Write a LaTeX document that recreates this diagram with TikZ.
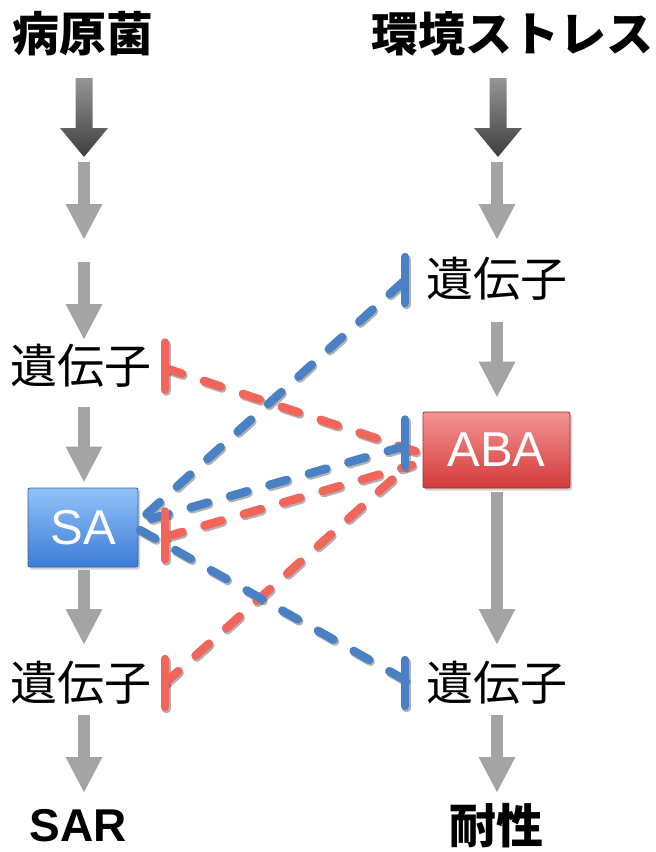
\documentclass[tikz,border=0pt]{standalone}
\usepackage{fontspec}
\setmainfont{Liberation Sans}
\newfontfamily\jp{Noto Sans CJK JP}
\usetikzlibrary{arrows.meta,shadows}
\definecolor{dblue}{HTML}{4A80C4}
\definecolor{dred}{HTML}{F2655A}
\definecolor{agrey}{HTML}{A4A4A4}
\definecolor{dktop}{HTML}{959595}
\definecolor{dkbot}{HTML}{3E3E3E}
\definecolor{satop}{HTML}{92C2F8}
\definecolor{sabot}{HTML}{3C7CD6}
\definecolor{saedge}{HTML}{2E62AE}
\definecolor{abtop}{HTML}{F49494}
\definecolor{abbot}{HTML}{D23A3A}
\definecolor{abedge}{HTML}{A82A2A}
\begin{document}
\begin{tikzpicture}[x=1pt,y=1pt,
  jt/.style={font=\jp\fontsize{47}{47}\selectfont, inner sep=0pt},
  jtb/.style={font=\jp\bfseries\fontsize{47}{47}\selectfont, inner sep=0pt},
  ga/.style={draw=agrey, line width=12pt, -{Triangle[width=34pt,length=36pt]}},
  dl/.style={line width=8.5pt, line cap=round, dash pattern=on 18pt off 23pt},
  inbar/.style={line width=8.5pt, line cap=round},
  shd/.style={draw=black, opacity=0.3, transform canvas={shift={(1.3pt,-2pt)}}},
  hbox/.style={rounded corners=2pt, line width=0.8pt, text=white,
    font=\fontsize{49}{49}\selectfont, inner sep=0pt,
    drop shadow={opacity=0.35, shadow xshift=2pt, shadow yshift=-2.5pt}},
]
\useasboundingbox (0,0) rectangle (656,-852);
\fill[white] (0,0) rectangle (656,-852);

% texts
\node[jtb] (patho) at (83,-34) {病原菌};
\node[jtb] (env) at (512,-34) {環境ストレス};
\node[jt] (gL1) at (81,-366) {遺伝子};
\node[jt] (gR1) at (497,-279) {遺伝子};
\node[jt] (gL2) at (81,-683) {遺伝子};
\node[jt] (gR2) at (497,-683) {遺伝子};
\node[font=\bfseries\fontsize{46}{46}\selectfont, inner sep=0pt] (sar) at (78,-826) {SAR};
\node[jtb] (tai) at (496,-826) {耐性};

% boxes
\node[hbox, top color=satop, bottom color=sabot, draw=saedge,
  minimum width=110pt, minimum height=79pt] (SA) at (83,-527.5) {SA};
\node[hbox, top color=abtop, bottom color=abbot, draw=abedge,
  minimum width=147pt, minimum height=76pt] (ABA) at (496.5,-450) {ABA};

% dark arrows
\shade[top color=dktop, bottom color=dkbot]
  (75.5,-78) -- (92.5,-78) -- (92.5,-128) -- (108,-128) -- (84,-157)
  -- (60,-128) -- (75.5,-128) -- cycle;
\shade[top color=dktop, bottom color=dkbot]
  (489.5,-78) -- (506.5,-78) -- (506.5,-128) -- (522,-128) -- (498,-157)
  -- (474,-128) -- (489.5,-128) -- cycle;

% grey arrows, left column
\draw[ga] ([shift={(1,-128)}]patho.center) -- ([shift={(1,-206)}]patho.center);
\draw[ga] ([shift={(3,104)}]gL1.center) -- ([shift={(3,26)}]gL1.center);
\draw[ga] ([shift={(3,-41)}]gL1.center) -- ([shift={(1,5)}]SA.north);
\draw[ga] ([shift={(1,-3)}]SA.south) -- ([shift={(3,38)}]gL2.center);
\draw[ga] ([shift={(3,-32)}]gL2.center) -- ([shift={(6,33)}]sar.center);
% grey arrows, right column
\draw[ga] ([shift={(-15,-128)}]env.center) -- ([shift={(-15,-206)}]env.center);
\draw[ga] ([shift={(0,-43)}]gR1.center) -- ([shift={(0.5,14)}]ABA.north);
\draw[ga] ([shift={(0.5,-4)}]ABA.south) -- ([shift={(0,38)}]gR2.center);
\draw[ga] ([shift={(0,-32)}]gR2.center) -- ([shift={(1,33)}]tai.center);

% connector end points
\coordinate (r1a) at ([shift={(84,-2)}]gL1.center);
\coordinate (r1b) at ([shift={(-76,-3)}]ABA.center);
\coordinate (b1a) at ([shift={(-91.5,4)}]ABA.center);
\coordinate (b1b) at ([shift={(57,5.5)}]SA.center);
\coordinate (r2a) at ([shift={(82,-9.5)}]SA.center);
\coordinate (r2b) at ([shift={(-84.5,-15)}]ABA.center);
\coordinate (r3a) at ([shift={(84,0)}]gL2.center);
\coordinate (r3b) at ([shift={(-91.5,-18)}]ABA.center);
\coordinate (b2a) at ([shift={(-94,-3)}]gR1.center);
\coordinate (b2b) at ([shift={(57,7.5)}]SA.center);
\coordinate (b3a) at ([shift={(-92,3)}]gR2.center);
\coordinate (b3b) at ([shift={(57,-2.5)}]SA.center);

% shadows
\draw[dl,shd] (r1a) -- (r1b);
\draw[dl,shd] (r2a) -- (r2b);
\draw[dl,shd] (r3a) -- (r3b);
\draw[dl,shd] (b1a) -- (b1b);
\draw[dl,shd] (b2a) -- (b2b);
\draw[dl,shd] (b3a) -- (b3b);
\draw[inbar,shd] ([shift={(84,23.5)}]gL1.center) -- ([shift={(84,-23.5)}]gL1.center);
\draw[inbar,shd] ([shift={(82,16)}]SA.center) -- ([shift={(82,-32)}]SA.center);
\draw[inbar,shd] ([shift={(84,24)}]gL2.center) -- ([shift={(84,-24)}]gL2.center);
\draw[inbar,shd] ([shift={(-91.5,30.5)}]ABA.center) -- ([shift={(-91.5,-16.5)}]ABA.center);
\draw[inbar,shd] ([shift={(-92,22)}]gR1.center) -- ([shift={(-92,-24)}]gR1.center);
\draw[inbar,shd] ([shift={(-92,23)}]gR2.center) -- ([shift={(-92,-23)}]gR2.center);

% red dashed lines
\draw[dl,dred] (r1a) -- (r1b);
\draw[dl,dred] (r2a) -- (r2b);
\draw[dl,dred] (r3a) -- (r3b);
% blue dashed lines
\draw[dl,dblue] (b1a) -- (b1b);
\draw[dl,dblue] (b2a) -- (b2b);
\draw[dl,dblue] (b3a) -- (b3b);
% red bars
\draw[inbar,dred] ([shift={(84,23.5)}]gL1.center) -- ([shift={(84,-23.5)}]gL1.center);
\draw[inbar,dred] ([shift={(82,16)}]SA.center) -- ([shift={(82,-32)}]SA.center);
\draw[inbar,dred] ([shift={(84,24)}]gL2.center) -- ([shift={(84,-24)}]gL2.center);
% blue bars
\draw[inbar,dblue] ([shift={(-91.5,30.5)}]ABA.center) -- ([shift={(-91.5,-16.5)}]ABA.center);
\draw[inbar,dblue] ([shift={(-92,22)}]gR1.center) -- ([shift={(-92,-24)}]gR1.center);
\draw[inbar,dblue] ([shift={(-92,23)}]gR2.center) -- ([shift={(-92,-23)}]gR2.center);
\end{tikzpicture}
\end{document}
